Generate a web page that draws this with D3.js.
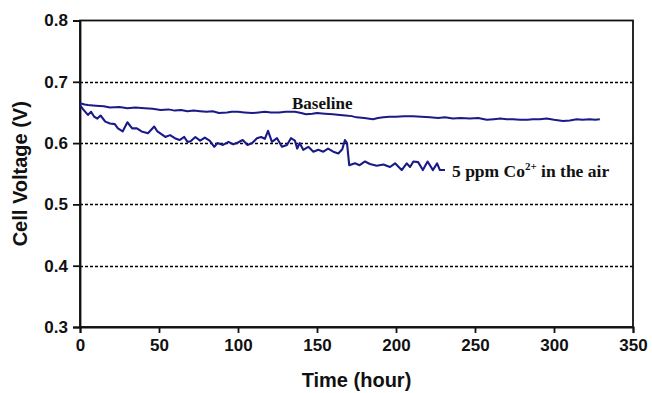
<!DOCTYPE html>
<html><head><meta charset="utf-8">
<script src="https://cdn.jsdelivr.net/npm/d3@7/dist/d3.min.js"></script>
<style>body{margin:0;background:#fff}svg{display:block}</style>
</head><body><div id="chart"></div>
<script>
const xTicks = [0, 50, 100, 150, 200, 250, 300, 350];
const yTicks = [0.3, 0.4, 0.5, 0.6, 0.7, 0.8];
const gridValues = [0.4, 0.5, 0.6, 0.7];

const baselineTime = [0,3,5,10,15,19,25,30,35,41,46,51,56,60,64,68,72,76,80,84,88,93,96,100,104,109,113,117,121,126,130,136,140,143,147,150,155,160,164.6,168,172,175,180,185.4,188.6,192,196,200,205,210.8,216,221.5,226.6,231,236,241,246.8,252,257.4,262,266,270,274,278.5,283,286.7,291,295.4,300,305.7,310,314.4,318,322.8,326,329];
const baselineVolt = [0.665,0.663,0.662,0.661,0.660,0.658,0.659,0.657,0.658,0.657,0.656,0.654,0.655,0.653,0.654,0.652,0.653,0.652,0.651,0.652,0.649,0.650,0.651,0.651,0.650,0.649,0.650,0.651,0.650,0.650,0.651,0.651,0.649,0.647,0.648,0.649,0.648,0.647,0.646,0.645,0.644,0.642,0.641,0.639,0.641,0.642,0.643,0.643,0.644,0.644,0.643,0.642,0.641,0.642,0.640,0.641,0.640,0.641,0.638,0.639,0.640,0.639,0.639,0.638,0.638,0.639,0.639,0.640,0.638,0.636,0.637,0.639,0.638,0.639,0.638,0.639];

const coTime = [0,2,5,7,9,11,13,16,19,22,24,27,30,33,36,39,43,47,49,54,57,60,63,66,68,70,73,76,79,82,85,87,90.5,94,97,100,103,106,109,112,114.6,117,119,121.5,124.7,127.8,131,133.5,136,137.5,139,141.3,144.5,147.7,150.8,154,157,160.3,163.5,166,167.7,169,170.4,174,177,180.4,183.5,187.8,192,196.2,199.4,203.6,206.8,208.9,211,214,217,220,223.4,226,227.8,231];
const coVolt = [0.662,0.655,0.646,0.651,0.643,0.640,0.645,0.635,0.632,0.631,0.624,0.619,0.634,0.624,0.624,0.619,0.616,0.627,0.619,0.610,0.613,0.608,0.605,0.610,0.602,0.603,0.610,0.604,0.609,0.604,0.594,0.600,0.597,0.602,0.598,0.601,0.605,0.597,0.600,0.608,0.610,0.607,0.620,0.602,0.608,0.594,0.597,0.608,0.604,0.591,0.600,0.589,0.594,0.586,0.589,0.586,0.591,0.586,0.583,0.590,0.605,0.600,0.564,0.567,0.564,0.570,0.566,0.563,0.565,0.561,0.567,0.556,0.567,0.561,0.570,0.569,0.556,0.570,0.556,0.567,0.556,0.556];

const W = 652, H = 393;
const m = {left: 80, right: 19, top: 20.5, bottom: 66};
const svg = d3.select("#chart").append("svg").attr("width", W).attr("height", H);

const x = d3.scaleLinear().domain([0, 350]).range([m.left, W - m.right]);
const y = d3.scaleLinear().domain([0.3, 0.8]).range([H - m.bottom, m.top]);

// grid
svg.append("g").selectAll("line").data(gridValues).join("line")
  .attr("x1", x(0)).attr("x2", x(350))
  .attr("y1", d => Math.round(y(d)) + 0.5).attr("y2", d => Math.round(y(d)) + 0.5)
  .attr("stroke", "#000").attr("stroke-width", 1.3).attr("stroke-dasharray", "3,2");

// frame
svg.append("rect").attr("x", x(0)).attr("y", y(0.8)).attr("width", x(350) - x(0)).attr("height", y(0.3) - y(0.8))
  .attr("fill", "none").attr("stroke", "#111").attr("stroke-width", 1.8);

const xAxis = svg.append("g").attr("transform", `translate(0,${y(0.3)})`)
  .call(d3.axisBottom(x).tickValues(xTicks).tickFormat(d3.format("d")).tickSize(6).tickPadding(6));
const yAxis = svg.append("g").attr("transform", `translate(${x(0)},0)`)
  .call(d3.axisLeft(y).tickValues(yTicks).tickFormat(d3.format(".1f")).tickSize(7).tickPadding(5));
[xAxis, yAxis].forEach(g => {
  g.select(".domain").attr("stroke", "#111").attr("stroke-width", 1.8);
  g.selectAll(".tick line").attr("stroke", "#111").attr("stroke-width", 1.8);
  g.selectAll("text").attr("fill", "#111").style("font-family", "'Liberation Sans', Arial, sans-serif")
    .style("font-weight", "bold").style("font-size", "17px");
});

const line = d3.line().x(d => x(d[0])).y(d => y(d[1]));
const color = "#1a1a88";
svg.append("path").datum(baselineTime.map((t, i) => [t, baselineVolt[i]]))
  .attr("d", line).attr("fill", "none").attr("stroke", color).attr("stroke-width", 2).attr("stroke-linejoin", "round");
svg.append("path").datum(coTime.map((t, i) => [t, coVolt[i]]))
  .attr("d", line).attr("fill", "none").attr("stroke", color).attr("stroke-width", 2.1).attr("stroke-linejoin", "round");

const serif = "'Liberation Serif', 'Times New Roman', serif";
svg.append("text").attr("x", 292).attr("y", 109).text("Baseline")
  .style("font-family", serif).style("font-weight", "bold").style("font-size", "17px").attr("fill", "#111");
const ann = svg.append("text").attr("x", 452).attr("y", 177)
  .style("font-family", serif).style("font-weight", "bold").style("font-size", "17.5px").attr("fill", "#111");
ann.append("tspan").text("5 ppm Co");
ann.append("tspan").text("2+").attr("dy", -7).style("font-size", "11px");
ann.append("tspan").text(" in the air").attr("dy", 7);

svg.append("text").attr("x", x(175)).attr("y", 387).attr("text-anchor", "middle").text("Time (hour)")
  .style("font-family", "'Liberation Sans', Arial, sans-serif").style("font-weight", "bold").style("font-size", "20px").attr("fill", "#111");
svg.append("text").attr("transform", `translate(27,${y(0.55)}) rotate(-90)`).attr("text-anchor", "middle").text("Cell Voltage (V)")
  .style("font-family", "'Liberation Sans', Arial, sans-serif").style("font-weight", "bold").style("font-size", "20px").attr("fill", "#111");
</script></body></html>
